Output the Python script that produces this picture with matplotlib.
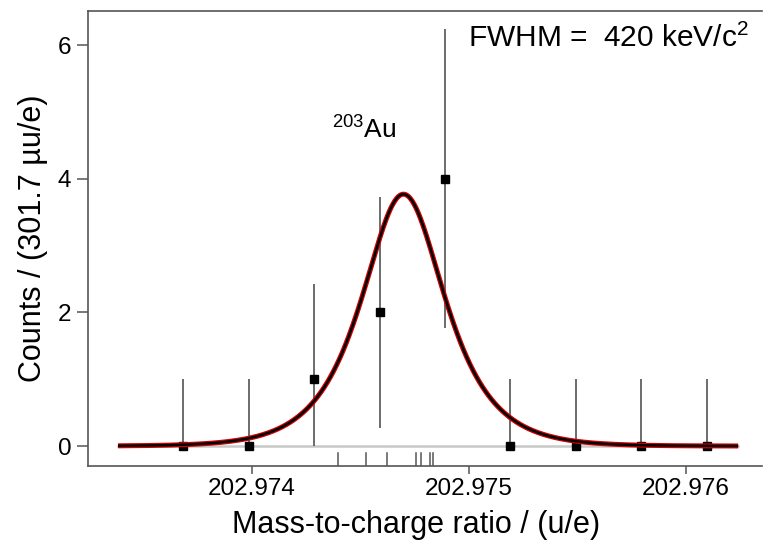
import matplotlib
matplotlib.use("Agg")
import matplotlib.pyplot as plt
import numpy as np

plt.rcParams['font.family'] = ['Liberation Sans', 'DejaVu Sans']
plt.rcParams['mathtext.fontset'] = 'custom'
plt.rcParams['mathtext.rm'] = 'Liberation Sans'
plt.rcParams['mathtext.it'] = 'Liberation Sans:italic'

# histogram bins (u/e) and counts
bin_centers = [202.973682, 202.973984, 202.974286, 202.974588, 202.974889,
               202.975191, 202.975493, 202.975794, 202.976096]
counts = [0, 0, 1, 2, 4, 0, 0, 0, 0]
err_low = [0, 0, 1.0, 1.73, 2.24, 0, 0, 0, 0]
err_high = [1.0, 1.0, 1.42, 1.73, 2.24, 1.0, 1.0, 1.0, 1.0]

# individual events (rug)
events = [202.974396, 202.974523, 202.974620, 202.974758, 202.974777,
          202.974820, 202.974835]

# fitted peak shape
peak_center = 202.974698
peak_amp = 3.77
peak_fwhm = 0.000451
fit_range = (202.973382, 202.976241)

xticks = [202.974, 202.975, 202.976]
yticks = [0, 2, 4, 6]

fig = plt.figure(figsize=(7.63, 5.42), dpi=100)
ax = fig.add_axes([0.1153, 0.1402, 0.8835, 0.8401])

spine_col = '#555555'

x = np.linspace(fit_range[0], fit_range[1], 600)
w = peak_fwhm / 2.634
y = peak_amp / np.cosh((x - peak_center) / w)

ax.plot(fit_range, [0, 0], color='#c8c8c8', lw=1.8, zorder=1)
ax.errorbar(bin_centers, counts, yerr=[err_low, err_high], fmt='s',
            color='black', ms=5.5, ecolor='#444444', elinewidth=1.1,
            capsize=0, zorder=3)
ax.plot(x, y, color='#d00000', lw=3.6, zorder=4, solid_capstyle='butt')
ax.plot(x, y, color='black', lw=1.8, zorder=5, solid_capstyle='butt')

for e in events:
    ax.axvline(e, ymin=0, ymax=0.029, color=spine_col, lw=1.1)

ax.set_xlim(202.9732435, 202.9763513)
ax.set_ylim(-0.299, 6.517)
ax.set_xticks(xticks)
ax.set_xticklabels([f'{t:.3f}' for t in xticks])
ax.set_yticks(yticks)

for s in ['left', 'bottom', 'top']:
    ax.spines[s].set_color(spine_col)
    ax.spines[s].set_linewidth(1.2)
ax.spines['right'].set_visible(False)

ax.tick_params(axis='x', direction='out', length=5.5, width=1.1,
               color=spine_col, labelsize=17.5, pad=3)
ax.tick_params(axis='y', direction='out', length=8, width=1.1,
               color=spine_col, labelsize=17.5, pad=4)

ax.set_xlabel('Mass-to-charge ratio / (u/e)', fontsize=22)
ax.xaxis.set_label_coords(0.486, -0.097)
ax.set_ylabel('Counts / (301.7 \u00b5u/e)', fontsize=22, labelpad=7)

ax.text(202.974370, 4.6, r'$^{203}$Au', fontsize=19, ha='left',
        va='baseline')
ax.text(202.974995, 5.97, 'FWHM =  420 keV/c$^2$', fontsize=21.5,
        ha='left', va='baseline')

fig.savefig('out.png', dpi=100)
